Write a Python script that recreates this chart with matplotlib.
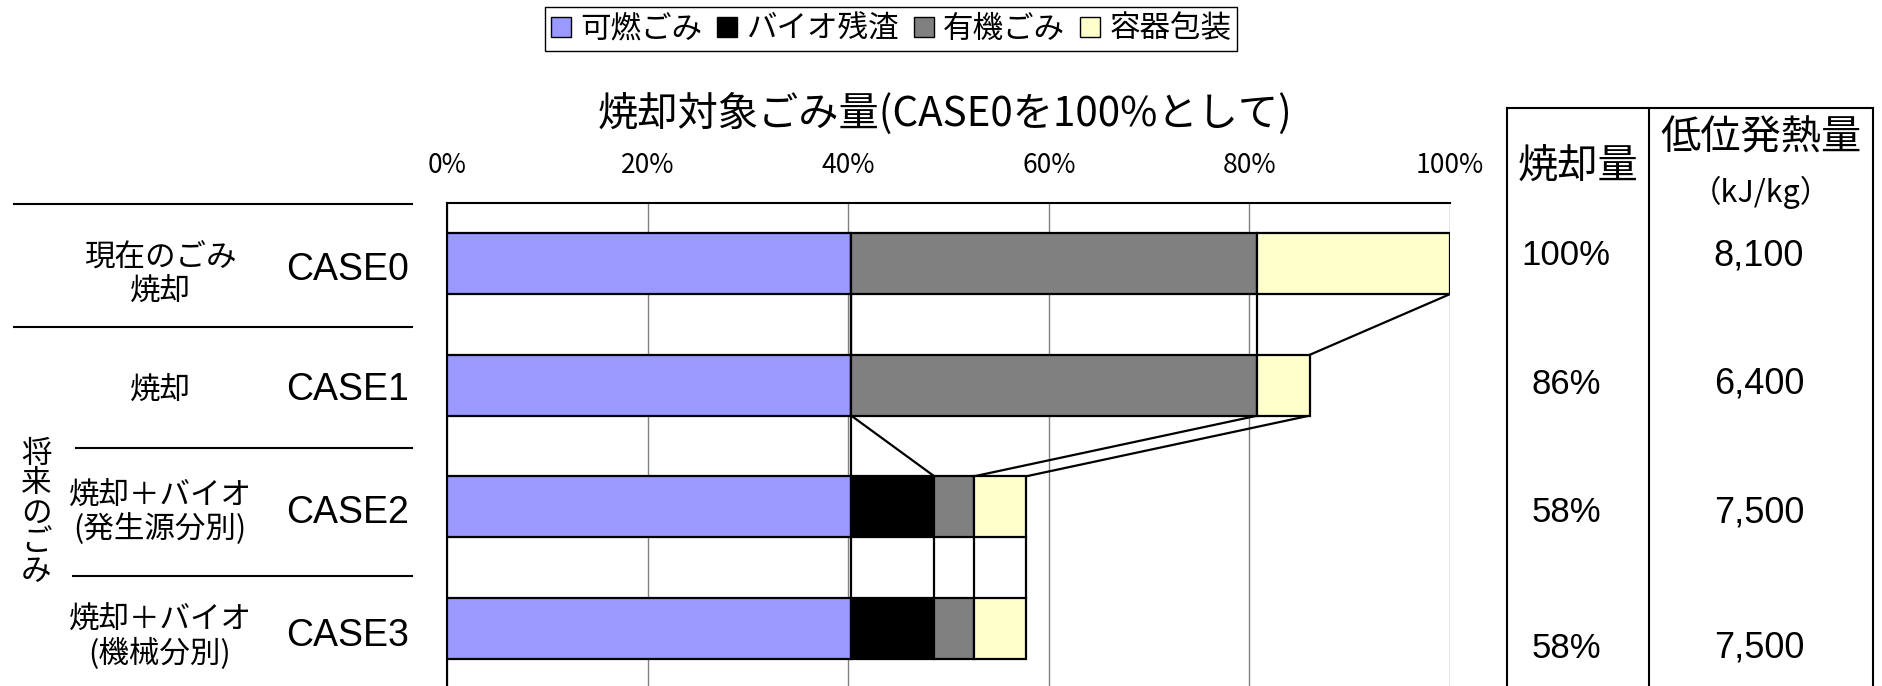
import matplotlib
matplotlib.use('Agg')
from matplotlib import pyplot as plt
from matplotlib.patches import Patch
from matplotlib.lines import Line2D

plt.rcParams['font.family'] = ['Noto Sans CJK JP', 'DejaVu Sans']

# data
cases = ['CASE0', 'CASE1', 'CASE2', 'CASE3']
case_notes = ['現在のごみ\n焼却', '焼却', '焼却＋バイオ\n(発生源分別)', '焼却＋バイオ\n(機械分別)']
series_names = ['可燃ごみ', 'バイオ残渣', '有機ごみ', '容器包装']
kanen = [40.3, 40.3, 40.3, 40.3]
bio = [0.0, 0.0, 8.3, 8.3]
yuki = [40.5, 40.5, 3.9, 3.9]
youki = [19.2, 5.2, 5.2, 5.2]
burn_amount = ['100%', '86%', '58%', '58%']
heat_value = ['8,100', '6,400', '7,500', '7,500']
x_ticks = [0, 20, 40, 60, 80, 100]

colors = ['#9999FF', '#000000', '#808080', '#FFFFCC']
W, H = 1883, 686
NARROW = ['Liberation Sans Narrow', 'Noto Sans CJK JP']
LATIN = ['Liberation Sans', 'Noto Sans CJK JP']


def fx(px):
    return px / W


def fy(py):
    return 1 - py / H


fig = plt.figure(figsize=(W / 100, H / 100), dpi=100)
ax = fig.add_axes([fx(447), 0, fx(1450) - fx(447), fy(203)])

series = [kanen, bio, yuki, youki]
ypos = list(range(len(cases)))
left = [0.0] * len(cases)
cums = []
handles = []
for vals, col, name in zip(series, colors, series_names):
    ax.barh(ypos, vals, left=left, height=0.5, color=col, edgecolor='black',
            linewidth=1.6, zorder=3)
    left = [l + v for l, v in zip(left, vals)]
    cums.append(left)
    handles.append(Patch(facecolor=col, edgecolor='black', linewidth=1, label=name))

# series lines between neighbouring bars
for cum in cums:
    for i in range(len(cases) - 1):
        ax.plot([cum[i], cum[i + 1]], [i + 0.25, i + 0.75], color='black',
                linewidth=1.6, zorder=2)

ax.set_xlim(0, 100)
ax.set_ylim(3.475, -0.5)
ax.set_yticks([])
ax.xaxis.tick_top()
ax.set_xticks(x_ticks)
ax.set_xticklabels([f'{t}%' for t in x_ticks], fontsize=19, family=NARROW)
ax.tick_params(axis='x', length=0, pad=17)
ax.grid(axis='x', color='#808080', linewidth=1)
ax.set_axisbelow(True)
for s in ['right', 'bottom']:
    ax.spines[s].set_visible(False)
for s in ['left', 'top']:
    ax.spines[s].set_linewidth(1.5)

fig.text(fx(945), fy(114), '焼却対象ごみ量(CASE0を100%として)', ha='center', va='center',
         fontsize=29, family=NARROW)

fig.legend(handles=handles, loc='center', bbox_to_anchor=(fx(891), fy(29)), ncol=4,
           fontsize=22, frameon=True, fancybox=False, edgecolor='black',
           handlelength=0.65, handleheight=0.65, handletextpad=0.3,
           columnspacing=0.5, borderpad=0.2, framealpha=1)

# left side labels
note_y = [275, 390, 512, 637]
case_y = [270, 390, 513, 636]
for note, ny, case, cy in zip(case_notes, note_y, cases, case_y):
    fig.text(fx(160), fy(ny), note, ha='center', va='center', fontsize=22,
             linespacing=1.1)
    fig.text(fx(348), fy(cy), case, ha='center', va='center', fontsize=27, family=LATIN)
fig.text(fx(36), fy(513), '\n'.join('将来のごみ'), ha='center', va='center',
         fontsize=22, linespacing=0.93)

for y, x0 in [(204, 14), (327, 14), (448, 76), (576, 73)]:
    fig.add_artist(Line2D([fx(x0), fx(412)], [fy(y), fy(y)], color='black', linewidth=1.5))

# right side table
for x in [1507, 1649, 1873]:
    fig.add_artist(Line2D([fx(x), fx(x)], [fy(108), 0], color='black', linewidth=1.5))
fig.add_artist(Line2D([fx(1507), fx(1873)], [fy(108), fy(108)], color='black', linewidth=1.5))
fig.text(fx(1578), fy(166), '焼却量', ha='center', va='center', fontsize=29)
fig.text(fx(1761), fy(138), '低位発熱量', ha='center', va='center', fontsize=29)
fig.text(fx(1761), fy(192), '（kJ/kg）', ha='center', va='center', fontsize=22)
row_y = [256, 384, 513, 648]
for b, h, ry in zip(burn_amount, heat_value, row_y):
    fig.text(fx(1566), fy(ry), b, ha='center', va='center', fontsize=25, family=LATIN)
    fig.text(fx(1759), fy(ry), h, ha='center', va='center', fontsize=26, family=LATIN)

fig.savefig('out.png', dpi=100)
